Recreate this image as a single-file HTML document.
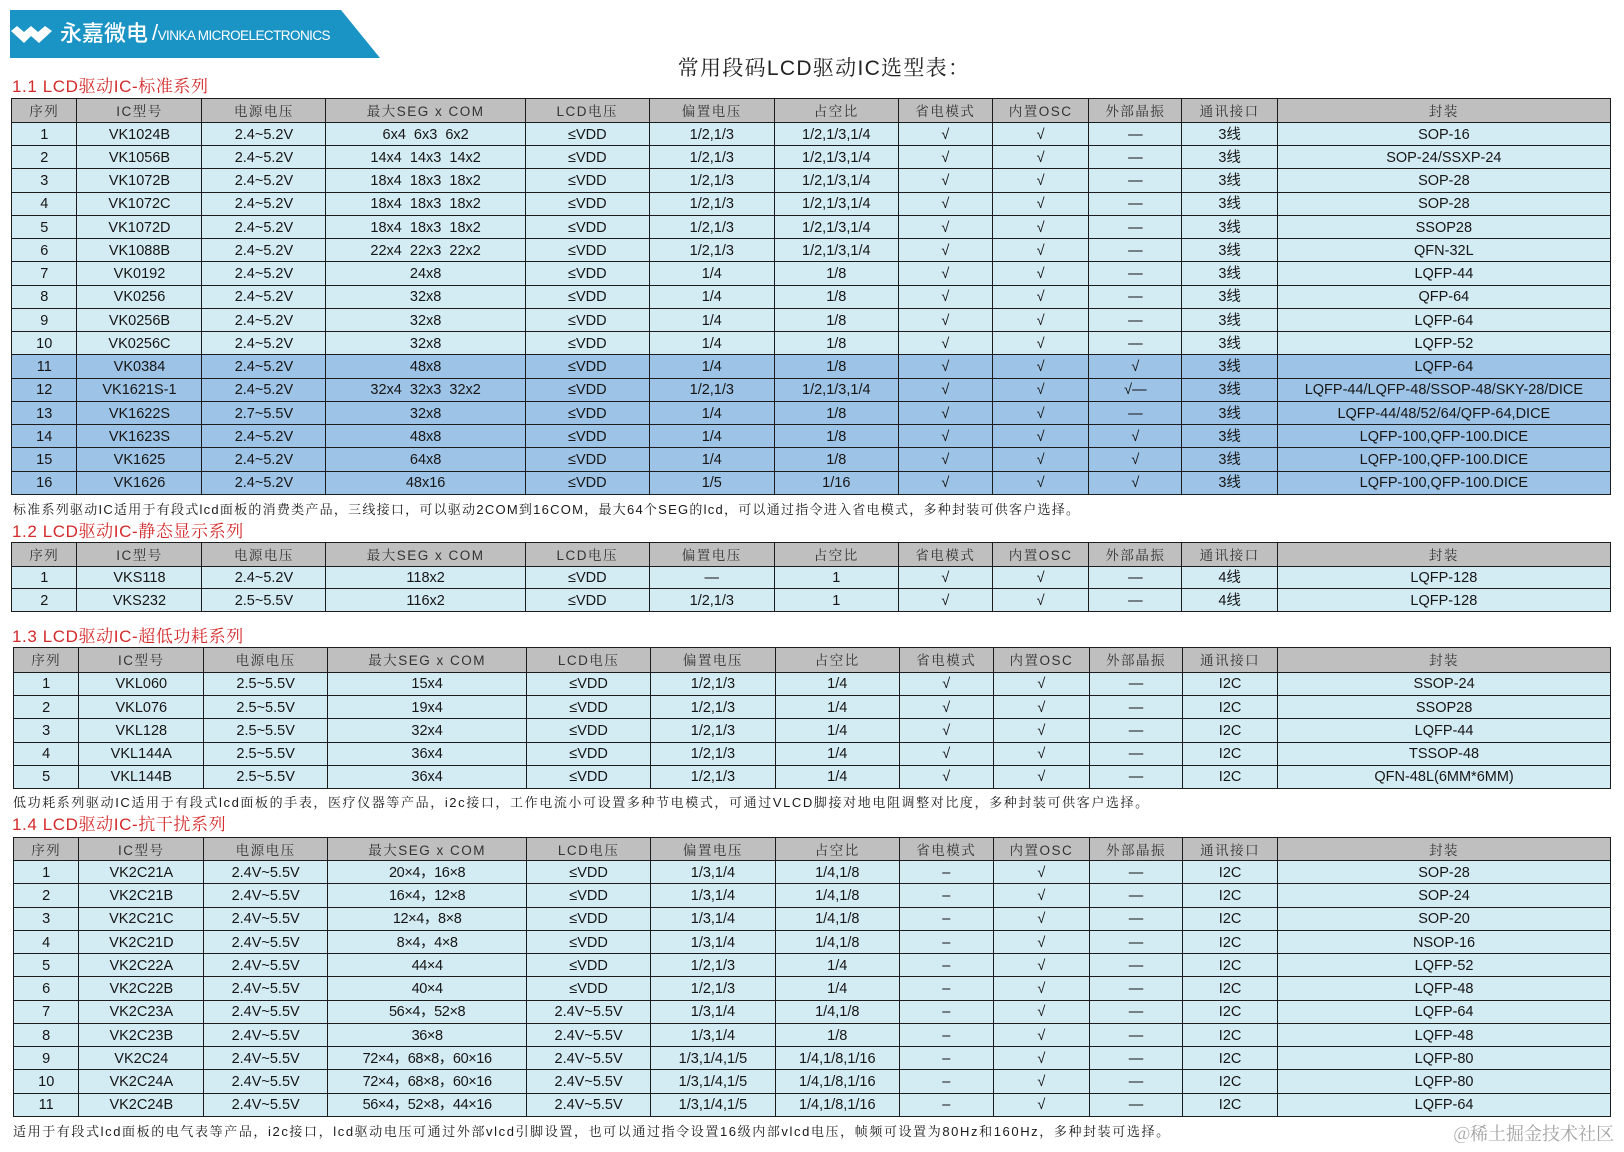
<!DOCTYPE html>
<html><head><meta charset="utf-8">
<style>
html,body{margin:0;padding:0;background:#fff;}
body{width:1624px;height:1152px;overflow:hidden;position:relative;}
.t{position:absolute;display:grid;background:#1c1c1c;gap:1px;padding:1px;box-sizing:border-box;
grid-template-columns:65fr 125fr 124fr 200fr 124fr 125fr 124fr 94fr 96fr 93fr 95fr 335fr;}
.t>div{display:flex;align-items:center;justify-content:center;background:#d3ebf2;box-sizing:border-box;padding-top:1px;
font-family:"Liberation Sans Narrow","Liberation Sans","Noto Sans CJK SC",sans-serif;font-size:14.5px;line-height:16px;color:#161616;white-space:nowrap;overflow:hidden;}
.t>div:nth-child(-n+12){background:#bfbfbf;font-family:"Liberation Sans Narrow","Liberation Sans","Noto Serif CJK SC",serif;color:#333;letter-spacing:1.5px;font-size:13.5px;line-height:16px;padding-top:3px;}
#t1>div:nth-child(n+133){background:#9dc3e6;}
.t>div.x{letter-spacing:-0.4px;}
.sec{position:absolute;left:12px;font-family:"Liberation Sans","Noto Serif CJK SC",serif;font-size:17px;line-height:22px;color:#d42a2a;letter-spacing:0.6px;white-space:nowrap;}
.note{position:absolute;left:13px;font-family:"Liberation Sans Narrow","Liberation Sans","Noto Serif CJK SC",serif;font-size:13px;line-height:20px;color:#1a1a1a;letter-spacing:1.6px;white-space:nowrap;}
</style></head><body>

<svg style="position:absolute;left:0;top:0" width="400" height="70">
<polygon points="10,10 341,10 380,58 10,58" fill="#1a93c5"/>
<polygon points="11,31 17,26 24,32 31,26 38,32 45,26 52,31 39,43 31,36 24,43" fill="#fff"/>
</svg>
<div style="position:absolute;left:60px;top:18px;font-family:'Noto Sans CJK SC',sans-serif;font-weight:500;font-size:22px;line-height:28px;color:#fff;">永嘉微电</div>
<div style="position:absolute;left:152px;top:19px;font-family:'Liberation Sans',sans-serif;font-size:13.5px;line-height:28px;color:#fff;letter-spacing:-0.55px;white-space:nowrap;"><span style="font-size:22px;font-weight:300">/</span>VINKA MICROELECTRONICS</div>

<div style="position:absolute;left:624px;width:400px;top:54px;text-align:center;font-family:'Liberation Sans','Noto Serif CJK SC',serif;font-size:21px;line-height:30px;color:#222;letter-spacing:1.3px;white-space:nowrap;">常用段码LCD驱动IC选型表：</div>

<div class="sec" style="top:76px">1.1 LCD驱动IC-标准系列</div>

<div class="t" id="t1" style="left:11px;top:98px;width:1600px;height:397px;grid-template-rows:24fr repeat(16,23.3fr);">
<div>序列</div><div>IC型号</div><div>电源电压</div><div>最大SEG x COM</div><div>LCD电压</div><div>偏置电压</div><div>占空比</div><div>省电模式</div><div>内置OSC</div><div>外部晶振</div><div>通讯接口</div><div>封装</div>
<div>1</div><div>VK1024B</div><div>2.4~5.2V</div><div>6x4&nbsp; 6x3&nbsp; 6x2</div><div>≤VDD</div><div>1/2,1/3</div><div>1/2,1/3,1/4</div><div>√</div><div>√</div><div>—</div><div>3线</div><div>SOP-16</div>
<div>2</div><div>VK1056B</div><div>2.4~5.2V</div><div>14x4&nbsp; 14x3&nbsp; 14x2</div><div>≤VDD</div><div>1/2,1/3</div><div>1/2,1/3,1/4</div><div>√</div><div>√</div><div>—</div><div>3线</div><div>SOP-24/SSXP-24</div>
<div>3</div><div>VK1072B</div><div>2.4~5.2V</div><div>18x4&nbsp; 18x3&nbsp; 18x2</div><div>≤VDD</div><div>1/2,1/3</div><div>1/2,1/3,1/4</div><div>√</div><div>√</div><div>—</div><div>3线</div><div>SOP-28</div>
<div>4</div><div>VK1072C</div><div>2.4~5.2V</div><div>18x4&nbsp; 18x3&nbsp; 18x2</div><div>≤VDD</div><div>1/2,1/3</div><div>1/2,1/3,1/4</div><div>√</div><div>√</div><div>—</div><div>3线</div><div>SOP-28</div>
<div>5</div><div>VK1072D</div><div>2.4~5.2V</div><div>18x4&nbsp; 18x3&nbsp; 18x2</div><div>≤VDD</div><div>1/2,1/3</div><div>1/2,1/3,1/4</div><div>√</div><div>√</div><div>—</div><div>3线</div><div>SSOP28</div>
<div>6</div><div>VK1088B</div><div>2.4~5.2V</div><div>22x4&nbsp; 22x3&nbsp; 22x2</div><div>≤VDD</div><div>1/2,1/3</div><div>1/2,1/3,1/4</div><div>√</div><div>√</div><div>—</div><div>3线</div><div>QFN-32L</div>
<div>7</div><div>VK0192</div><div>2.4~5.2V</div><div>24x8</div><div>≤VDD</div><div>1/4</div><div>1/8</div><div>√</div><div>√</div><div>—</div><div>3线</div><div>LQFP-44</div>
<div>8</div><div>VK0256</div><div>2.4~5.2V</div><div>32x8</div><div>≤VDD</div><div>1/4</div><div>1/8</div><div>√</div><div>√</div><div>—</div><div>3线</div><div>QFP-64</div>
<div>9</div><div>VK0256B</div><div>2.4~5.2V</div><div>32x8</div><div>≤VDD</div><div>1/4</div><div>1/8</div><div>√</div><div>√</div><div>—</div><div>3线</div><div>LQFP-64</div>
<div>10</div><div>VK0256C</div><div>2.4~5.2V</div><div>32x8</div><div>≤VDD</div><div>1/4</div><div>1/8</div><div>√</div><div>√</div><div>—</div><div>3线</div><div>LQFP-52</div>
<div>11</div><div>VK0384</div><div>2.4~5.2V</div><div>48x8</div><div>≤VDD</div><div>1/4</div><div>1/8</div><div>√</div><div>√</div><div>√</div><div>3线</div><div>LQFP-64</div>
<div>12</div><div>VK1621S-1</div><div>2.4~5.2V</div><div>32x4&nbsp; 32x3&nbsp; 32x2</div><div>≤VDD</div><div>1/2,1/3</div><div>1/2,1/3,1/4</div><div>√</div><div>√</div><div>√—</div><div>3线</div><div>LQFP-44/LQFP-48/SSOP-48/SKY-28/DICE</div>
<div>13</div><div>VK1622S</div><div>2.7~5.5V</div><div>32x8</div><div>≤VDD</div><div>1/4</div><div>1/8</div><div>√</div><div>√</div><div>—</div><div>3线</div><div>LQFP-44/48/52/64/QFP-64,DICE</div>
<div>14</div><div>VK1623S</div><div>2.4~5.2V</div><div>48x8</div><div>≤VDD</div><div>1/4</div><div>1/8</div><div>√</div><div>√</div><div>√</div><div>3线</div><div>LQFP-100,QFP-100.DICE</div>
<div>15</div><div>VK1625</div><div>2.4~5.2V</div><div>64x8</div><div>≤VDD</div><div>1/4</div><div>1/8</div><div>√</div><div>√</div><div>√</div><div>3线</div><div>LQFP-100,QFP-100.DICE</div>
<div>16</div><div>VK1626</div><div>2.4~5.2V</div><div>48x16</div><div>≤VDD</div><div>1/5</div><div>1/16</div><div>√</div><div>√</div><div>√</div><div>3线</div><div>LQFP-100,QFP-100.DICE</div>
</div>

<div class="note" style="top:500px;letter-spacing:1.25px">标准系列驱动IC适用于有段式lcd面板的消费类产品，三线接口，可以驱动2COM到16COM，最大64个SEG的lcd，可以通过指令进入省电模式，多种封装可供客户选择。</div>

<div class="sec" style="top:521px">1.2 LCD驱动IC-静态显示系列</div>

<div class="t" id="t2" style="left:11px;top:542px;width:1600px;height:70px;grid-template-rows:24fr 23fr 23fr;">
<div>序列</div><div>IC型号</div><div>电源电压</div><div>最大SEG x COM</div><div>LCD电压</div><div>偏置电压</div><div>占空比</div><div>省电模式</div><div>内置OSC</div><div>外部晶振</div><div>通讯接口</div><div>封装</div>
<div>1</div><div>VKS118</div><div>2.4~5.2V</div><div>118x2</div><div>≤VDD</div><div>—</div><div>1</div><div>√</div><div>√</div><div>—</div><div>4线</div><div>LQFP-128</div>
<div>2</div><div>VKS232</div><div>2.5~5.5V</div><div>116x2</div><div>≤VDD</div><div>1/2,1/3</div><div>1</div><div>√</div><div>√</div><div>—</div><div>4线</div><div>LQFP-128</div>
</div>

<div class="sec" style="top:626px">1.3 LCD驱动IC-超低功耗系列</div>

<div class="t" id="t3" style="left:13px;top:647px;width:1598px;height:142px;grid-template-rows:25fr repeat(5,23.3fr);">
<div>序列</div><div>IC型号</div><div>电源电压</div><div>最大SEG x COM</div><div>LCD电压</div><div>偏置电压</div><div>占空比</div><div>省电模式</div><div>内置OSC</div><div>外部晶振</div><div>通讯接口</div><div>封装</div>
<div>1</div><div>VKL060</div><div>2.5~5.5V</div><div>15x4</div><div>≤VDD</div><div>1/2,1/3</div><div>1/4</div><div>√</div><div>√</div><div>—</div><div>I2C</div><div>SSOP-24</div>
<div>2</div><div>VKL076</div><div>2.5~5.5V</div><div>19x4</div><div>≤VDD</div><div>1/2,1/3</div><div>1/4</div><div>√</div><div>√</div><div>—</div><div>I2C</div><div>SSOP28</div>
<div>3</div><div>VKL128</div><div>2.5~5.5V</div><div>32x4</div><div>≤VDD</div><div>1/2,1/3</div><div>1/4</div><div>√</div><div>√</div><div>—</div><div>I2C</div><div>LQFP-44</div>
<div>4</div><div>VKL144A</div><div>2.5~5.5V</div><div>36x4</div><div>≤VDD</div><div>1/2,1/3</div><div>1/4</div><div>√</div><div>√</div><div>—</div><div>I2C</div><div>TSSOP-48</div>
<div>5</div><div>VKL144B</div><div>2.5~5.5V</div><div>36x4</div><div>≤VDD</div><div>1/2,1/3</div><div>1/4</div><div>√</div><div>√</div><div>—</div><div>I2C</div><div>QFN-48L(6MM*6MM)</div>
</div>

<div class="note" style="top:793px">低功耗系列驱动IC适用于有段式lcd面板的手表，医疗仪器等产品，i2c接口，工作电流小可设置多种节电模式，可通过VLCD脚接对地电阻调整对比度，多种封装可供客户选择。</div>

<div class="sec" style="top:814px">1.4 LCD驱动IC-抗干扰系列</div>

<div class="t" id="t4" style="left:13px;top:837px;width:1598px;height:280px;grid-template-rows:23.3fr repeat(11,23.36fr);">
<div>序列</div><div>IC型号</div><div>电源电压</div><div>最大SEG x COM</div><div>LCD电压</div><div>偏置电压</div><div>占空比</div><div>省电模式</div><div>内置OSC</div><div>外部晶振</div><div>通讯接口</div><div>封装</div>
<div>1</div><div>VK2C21A</div><div>2.4V~5.5V</div><div class="x">20×4，16×8</div><div>≤VDD</div><div>1/3,1/4</div><div>1/4,1/8</div><div>–</div><div>√</div><div>—</div><div>I2C</div><div>SOP-28</div>
<div>2</div><div>VK2C21B</div><div>2.4V~5.5V</div><div class="x">16×4，12×8</div><div>≤VDD</div><div>1/3,1/4</div><div>1/4,1/8</div><div>–</div><div>√</div><div>—</div><div>I2C</div><div>SOP-24</div>
<div>3</div><div>VK2C21C</div><div>2.4V~5.5V</div><div class="x">12×4，8×8</div><div>≤VDD</div><div>1/3,1/4</div><div>1/4,1/8</div><div>–</div><div>√</div><div>—</div><div>I2C</div><div>SOP-20</div>
<div>4</div><div>VK2C21D</div><div>2.4V~5.5V</div><div class="x">8×4，4×8</div><div>≤VDD</div><div>1/3,1/4</div><div>1/4,1/8</div><div>–</div><div>√</div><div>—</div><div>I2C</div><div>NSOP-16</div>
<div>5</div><div>VK2C22A</div><div>2.4V~5.5V</div><div class="x">44×4</div><div>≤VDD</div><div>1/2,1/3</div><div>1/4</div><div>–</div><div>√</div><div>—</div><div>I2C</div><div>LQFP-52</div>
<div>6</div><div>VK2C22B</div><div>2.4V~5.5V</div><div class="x">40×4</div><div>≤VDD</div><div>1/2,1/3</div><div>1/4</div><div>–</div><div>√</div><div>—</div><div>I2C</div><div>LQFP-48</div>
<div>7</div><div>VK2C23A</div><div>2.4V~5.5V</div><div class="x">56×4，52×8</div><div>2.4V~5.5V</div><div>1/3,1/4</div><div>1/4,1/8</div><div>–</div><div>√</div><div>—</div><div>I2C</div><div>LQFP-64</div>
<div>8</div><div>VK2C23B</div><div>2.4V~5.5V</div><div class="x">36×8</div><div>2.4V~5.5V</div><div>1/3,1/4</div><div>1/8</div><div>–</div><div>√</div><div>—</div><div>I2C</div><div>LQFP-48</div>
<div>9</div><div>VK2C24</div><div>2.4V~5.5V</div><div class="x">72×4，68×8，60×16</div><div>2.4V~5.5V</div><div>1/3,1/4,1/5</div><div>1/4,1/8,1/16</div><div>–</div><div>√</div><div>—</div><div>I2C</div><div>LQFP-80</div>
<div>10</div><div>VK2C24A</div><div>2.4V~5.5V</div><div class="x">72×4，68×8，60×16</div><div>2.4V~5.5V</div><div>1/3,1/4,1/5</div><div>1/4,1/8,1/16</div><div>–</div><div>√</div><div>—</div><div>I2C</div><div>LQFP-80</div>
<div>11</div><div>VK2C24B</div><div>2.4V~5.5V</div><div class="x">56×4，52×8，44×16</div><div>2.4V~5.5V</div><div>1/3,1/4,1/5</div><div>1/4,1/8,1/16</div><div>–</div><div>√</div><div>—</div><div>I2C</div><div>LQFP-64</div>
</div>

<div class="note" style="top:1122px">适用于有段式lcd面板的电气表等产品，i2c接口，lcd驱动电压可通过外部vlcd引脚设置，也可以通过指令设置16级内部vlcd电压，帧频可设置为80Hz和160Hz，多种封装可选择。</div>

<div style="position:absolute;right:10px;top:1121px;font-family:'Noto Serif CJK SC',serif;font-size:18px;line-height:24px;color:#a3a3a3;white-space:nowrap;">@稀土掘金技术社区</div>

</body></html>
